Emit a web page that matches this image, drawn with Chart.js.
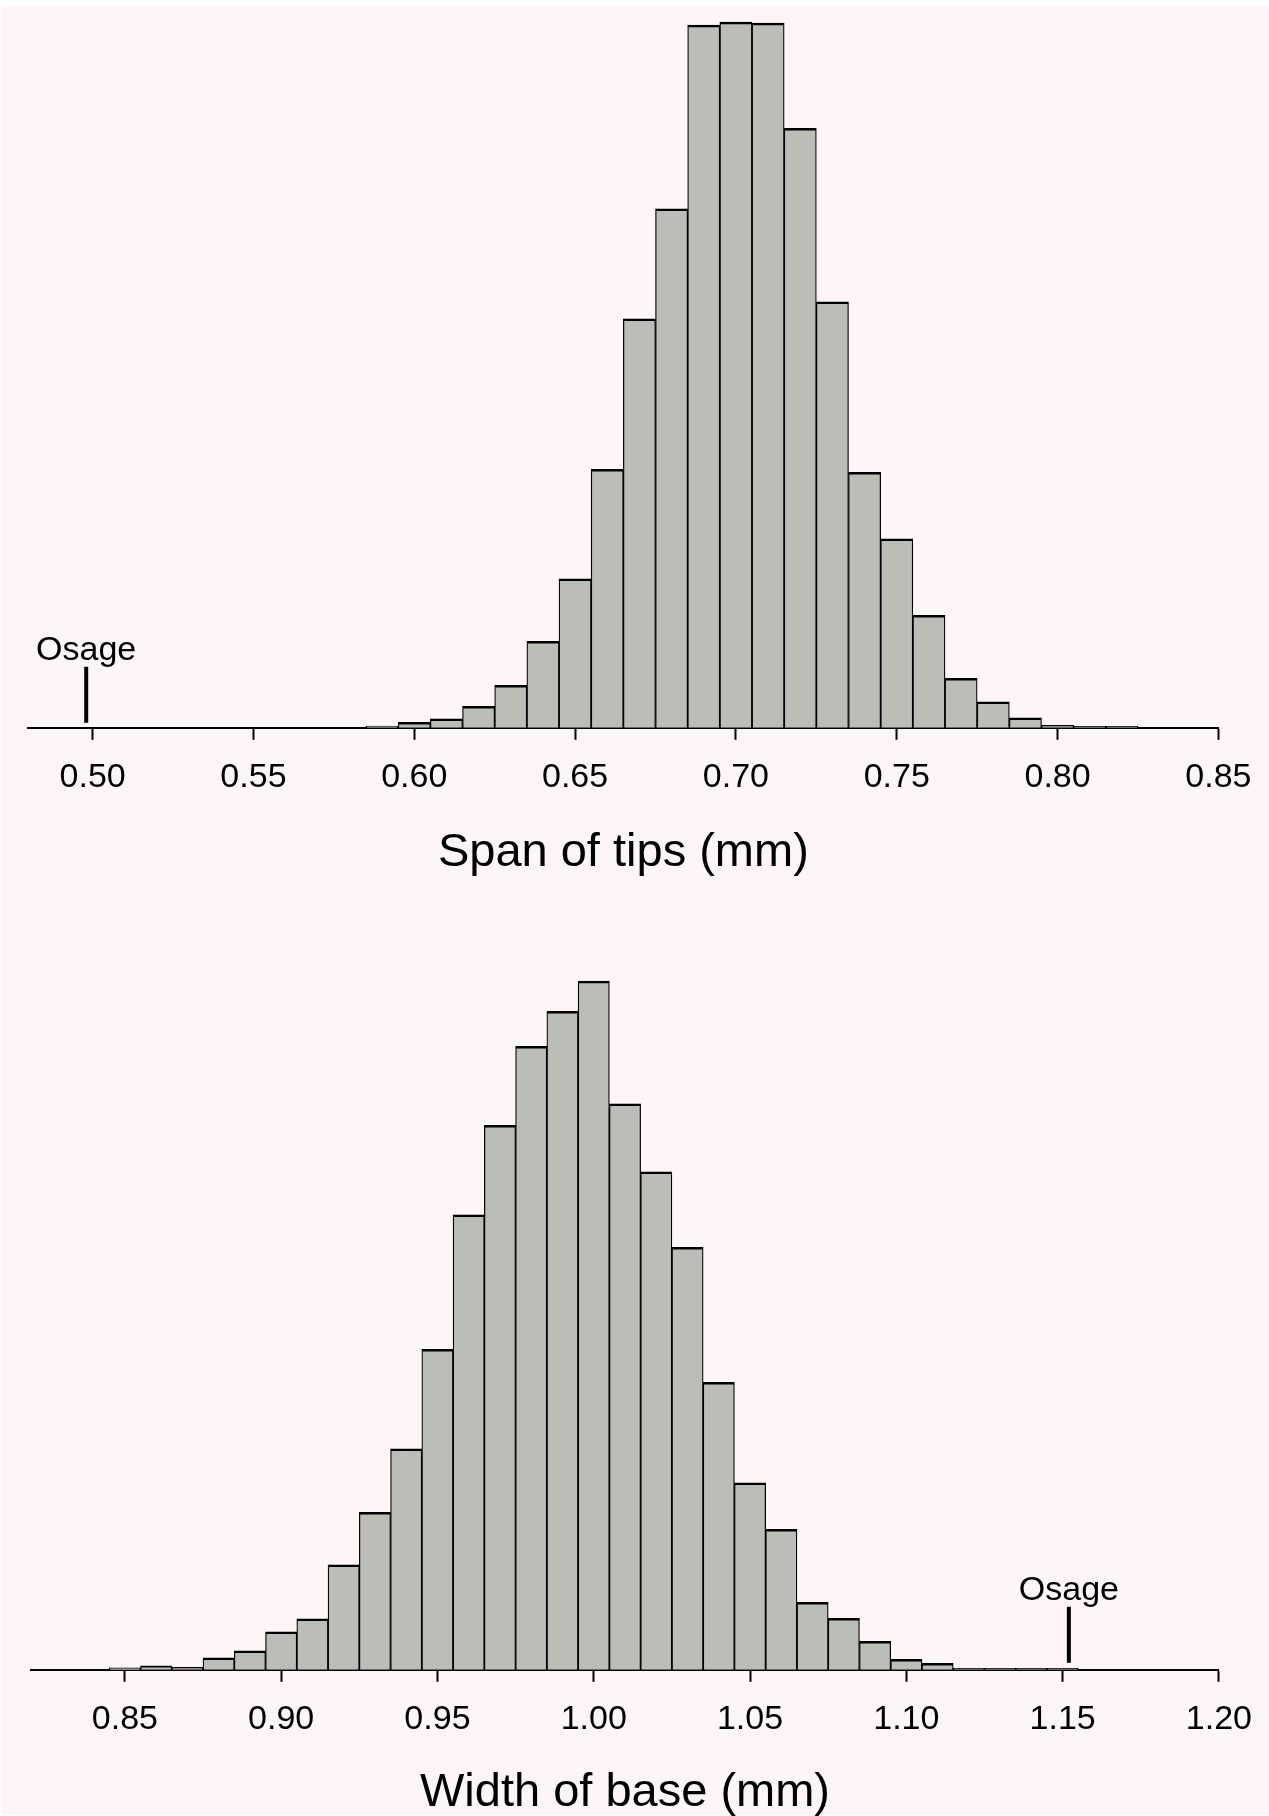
<!DOCTYPE html>
<html>
<head>
<meta charset="utf-8">
<script src="https://cdn.jsdelivr.net/npm/chart.js@4.4.1/dist/chart.umd.min.js"></script>
<style>
    html, body { margin: 0; padding: 0; background: #ffffff; overflow: hidden; }
    body { width: 1269px; height: 1816px; position: relative; }
    #panel { position: absolute; left: 1px; top: 6px; width: 1268px; height: 1809px; background: #fdf5f6; }
    canvas { position: absolute; left: 0; }
    #tipsChart { top: 0; }
    #baseChart { top: 895px; }
</style>
</head>
<body>
<div id="panel"></div>
<canvas id="tipsChart" width="1269" height="885"></canvas>
<canvas id="baseChart" width="1269" height="930"></canvas>
<script>
// Span of tips: bin centres (mm) and frequencies
const tipsBins = [0.59, 0.60, 0.61, 0.62, 0.63, 0.64, 0.65, 0.66, 0.67, 0.68, 0.69, 0.70,
    0.71, 0.72, 0.73, 0.74, 0.75, 0.76, 0.77, 0.78, 0.79, 0.80, 0.81, 0.82];
const tipsFreq = [1.8, 5.5, 9, 21.5, 42.5, 86.5, 149, 258.5, 409, 519, 702.5, 705.5,
    704.5, 599.5, 426, 255.5, 189, 112.5, 49.5, 26, 10, 2.5, 1.5, 1.5];
const tipsTicks = [0.50, 0.55, 0.60, 0.65, 0.70, 0.75, 0.80, 0.85];
const tipsOsage = 0.498;

// Width of base: bin centres (mm) and frequencies
const baseBins = [0.85, 0.86, 0.87, 0.88, 0.89, 0.90, 0.91, 0.92, 0.93, 0.94, 0.95, 0.96,
    0.97, 0.98, 0.99, 1.00, 1.01, 1.02, 1.03, 1.04, 1.05, 1.06, 1.07, 1.08, 1.09, 1.10,
    1.11, 1.12, 1.13, 1.14, 1.15];
const baseFreq = [2, 4, 2.5, 12, 19, 38, 51, 105, 157.5, 221, 320.5, 455,
    544.5, 623.5, 658.5, 688.5, 566, 498, 422.5, 287.5, 187, 140.5, 67.5, 51.5, 28.5, 10.5,
    6.5, 1.5, 1.5, 1.5, 1.5];
const baseTicks = [0.85, 0.90, 0.95, 1.00, 1.05, 1.10, 1.15, 1.20];
const baseOsage = 1.152;

const FONT = '"Liberation Sans", Arial, Helvetica, sans-serif';
const BAR_FILL = '#bbbeb7';

// Draws the "Osage" tick and label at a given x value
const osageMarker = {
    id: 'osageMarker',
    afterDatasetsDraw(chart, args, opts) {
        const { ctx, scales: { x, y } } = chart;
        const px = x.getPixelForValue(opts.value);
        ctx.save();
        ctx.strokeStyle = '#000';
        ctx.lineWidth = 4;
        ctx.beginPath();
        ctx.moveTo(px, y.getPixelForValue(opts.from));
        ctx.lineTo(px, y.getPixelForValue(opts.to));
        ctx.stroke();
        ctx.fillStyle = '#000';
        ctx.font = '34px ' + FONT;
        ctx.textAlign = 'center';
        ctx.textBaseline = 'alphabetic';
        ctx.fillText(opts.label, px, y.getPixelForValue(opts.labelAt));
        ctx.restore();
    }
};

function makeHistogram(canvasId, bins, freq, ticks, range, title, titleGap, osage, pad) {
    const ctx = document.getElementById(canvasId).getContext('2d');
    return new Chart(ctx, {
        type: 'bar',
        data: {
            datasets: [{
                data: bins.map((b, i) => ({ x: b, y: freq[i] })),
                backgroundColor: BAR_FILL,
                borderColor: '#000',
                borderWidth: { top: 2.5, left: 1.25, right: 1.25, bottom: 0 },
                borderSkipped: 'start',
                barPercentage: 1,
                categoryPercentage: 1
            }]
        },
        options: {
            responsive: false,
            animation: false,
            events: [],
            layout: { padding: pad },
            plugins: {
                legend: { display: false },
                tooltip: { enabled: false },
                osageMarker: osage
            },
            scales: {
                x: {
                    type: 'linear',
                    min: range[0],
                    max: range[1],
                    offset: false,
                    afterBuildTicks: axis => {
                        axis.ticks = ticks.map(v => ({ value: v }));
                    },
                    ticks: {
                        autoSkip: false,
                        maxRotation: 0,
                        padding: 17,
                        color: '#000',
                        font: { family: FONT, size: 34 },
                        callback: v => Number(v).toFixed(2)
                    },
                    grid: {
                        offset: false,
                        drawOnChartArea: false,
                        drawTicks: true,
                        tickLength: 12,
                        tickWidth: 2,
                        tickColor: '#000',
                        color: '#000'
                    },
                    border: { display: true, color: '#000', width: 2 },
                    title: {
                        display: true,
                        text: title,
                        color: '#000',
                        font: { family: FONT, size: 47 },
                        padding: { top: titleGap, bottom: 4 }
                    }
                },
                y: {
                    display: false,
                    min: 0,
                    max: 720
                }
            }
        },
        plugins: [osageMarker]
    });
}

makeHistogram('tipsChart', tipsBins, tipsFreq, tipsTicks, [0.48, 0.85], 'Span of tips (mm)', 10,
    { value: tipsOsage, from: 5, to: 61, labelAt: 68, label: 'Osage' },
    { left: 28.3, right: 50.6, top: 7.7, bottom: 0 });

makeHistogram('baseChart', baseBins, baseFreq, baseTicks, [0.82, 1.20], 'Width of base (mm)', 8,
    { value: baseOsage, from: 7, to: 63, labelAt: 70, label: 'Osage' },
    { left: 31.1, right: 48.5, top: 54.7, bottom: 0 });
</script>
</body>
</html>
